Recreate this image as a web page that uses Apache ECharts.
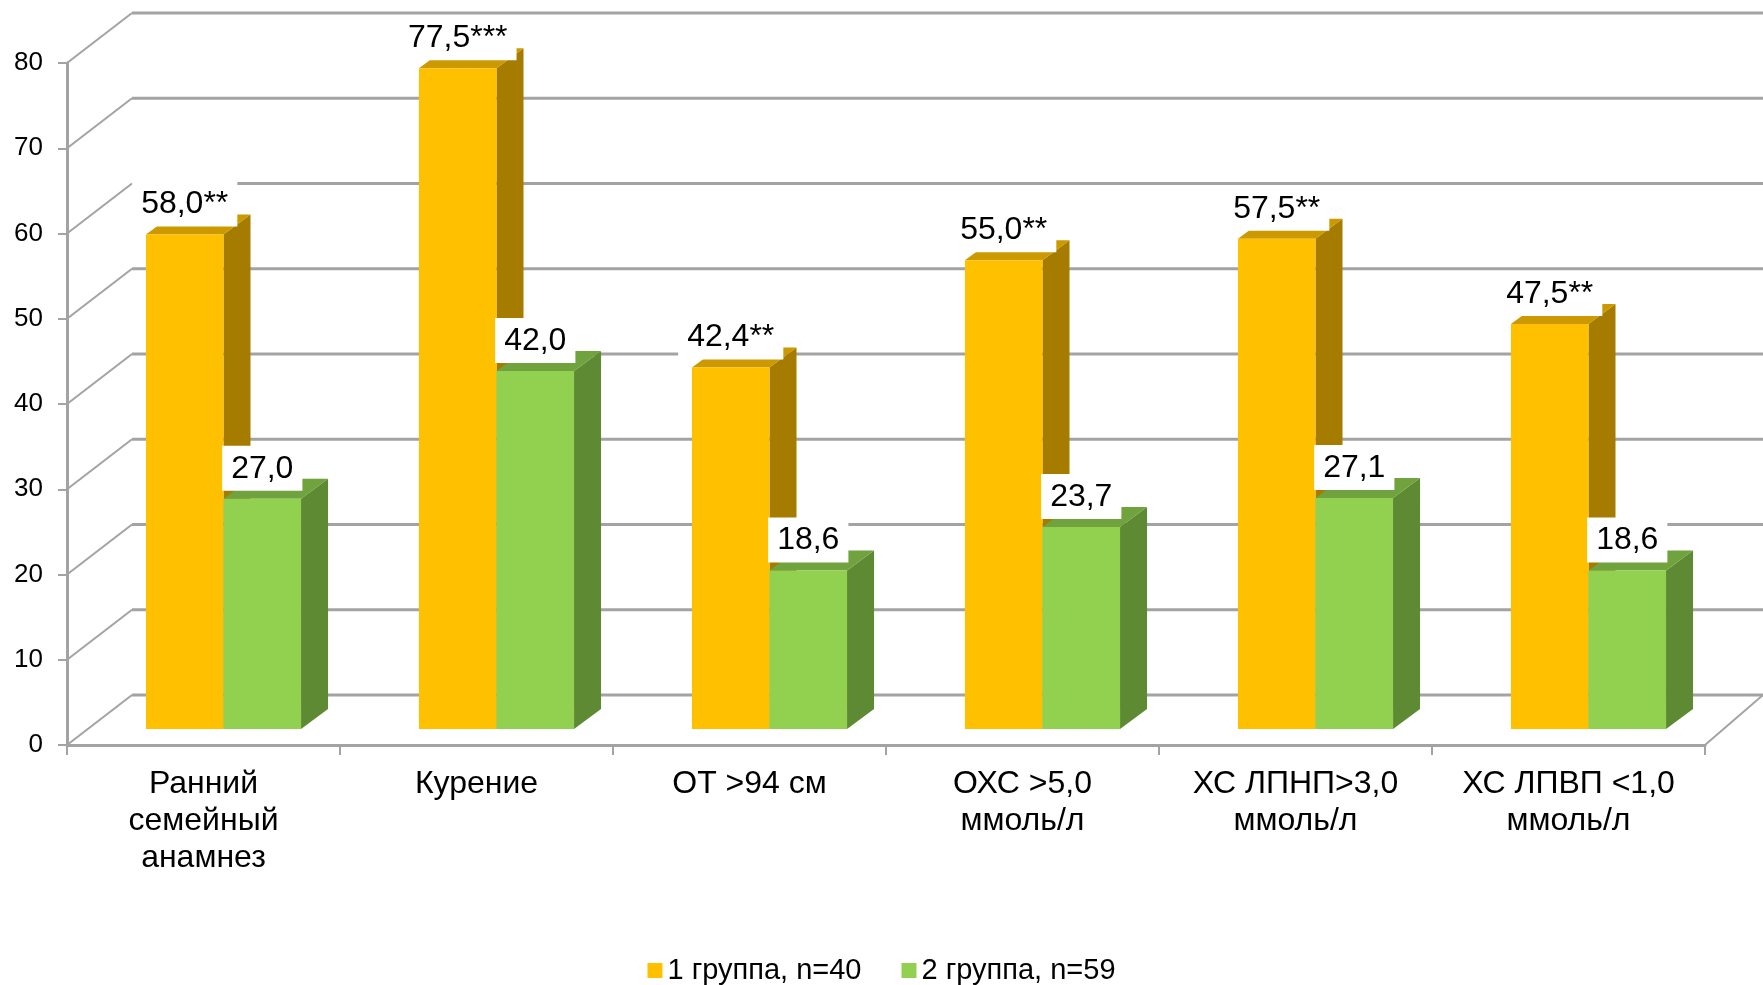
<!DOCTYPE html>
<html>
<head>
<meta charset="utf-8">
<script src="https://cdn.jsdelivr.net/npm/echarts@6/dist/echarts.min.js"></script>
<style>
  html, body { margin: 0; padding: 0; background: #fff; }
  #chart { width: 1763px; height: 985px; }
</style>
</head>
<body>
<div id="chart"></div>
<script>
// Risk factor prevalence, %
const categories = [
  'Ранний\nсемейный\nанамнез',
  'Курение',
  'ОТ >94 см',
  'ОХС >5,0\nммоль/л',
  'ХС ЛПНП>3,0\nммоль/л',
  'ХС ЛПВП <1,0\nммоль/л'
];
const group1 = [58.0, 77.5, 42.4, 55.0, 57.5, 47.5];
const group2 = [27.0, 42.0, 18.6, 23.7, 27.1, 18.6];
const group1Marks = ['**', '***', '**', '**', '**', '**'];
const group2Marks = ['', '', '', '', '', ''];
const seriesNames = ['1 группа, n=40', '2 группа, n=59'];
const yTicks = [0, 10, 20, 30, 40, 50, 60, 70, 80];

// pseudo-3D projection
const WALL_DX_LEFT = 65;
const WALL_DX_RIGHT = 58;
const WALL_DY = -50;
const BAR_SHIFT = [20, -16];   // bars stand a little inside the floor
const BAR_DEPTH = [27, -20];   // bar thickness toward the back wall
const BAR_FRAC = 0.284;        // one bar's share of a category band
const FONT = '"Liberation Sans", Arial, sans-serif';
const GRID_COLOR = '#a3a3a3';

const palette = [
  { front: '#FFC000', top: '#CC9A00', side: '#A67C00' },
  { front: '#92D050', top: '#70A23E', side: '#5E8A33' }
];

function fmt(v) { return v.toFixed(1).replace('.', ','); }

function renderWall(params, api) {
  const cs = params.coordSys;
  const v = api.value(1);
  const y = api.coord([0, v])[1];
  const left = cs.x;
  const right = cs.x + cs.width;
  const children = [
    { type: 'line', shape: { x1: left, y1: y, x2: left + WALL_DX_LEFT, y2: y + WALL_DY },
      style: { stroke: GRID_COLOR, lineWidth: 2 } },
    { type: 'line', shape: { x1: left + WALL_DX_LEFT, y1: y + WALL_DY, x2: right + WALL_DX_RIGHT + 40, y2: y + WALL_DY },
      style: { stroke: GRID_COLOR, lineWidth: 2.8 } }
  ];
  if (v === 0) {
    children.push({ type: 'line', shape: { x1: right, y1: y, x2: right + WALL_DX_RIGHT, y2: y + WALL_DY },
      style: { stroke: GRID_COLOR, lineWidth: 2 } });
  }
  return { type: 'group', children };
}

function makeBarRenderer(slot, colors, marks) {
  return function (params, api) {
    const idx = api.value(0);
    const val = api.value(1);
    const base = api.coord([idx, 0]);
    const top = api.coord([idx, val]);
    const band = api.size([1, 0])[0];
    const bw = band * BAR_FRAC;
    const x0 = base[0] + BAR_SHIFT[0] - bw + slot * bw;
    const x1 = x0 + bw;
    const yb = base[1] + BAR_SHIFT[1];
    const yt = top[1] + BAR_SHIFT[1];
    const dx = BAR_DEPTH[0], dy = BAR_DEPTH[1];
    return {
      type: 'group',
      children: [
        { type: 'polygon', shape: { points: [[x1, yt], [x1 + dx, yt + dy], [x1 + dx, yb + dy], [x1, yb]] },
          style: { fill: colors.side } },
        { type: 'polygon', shape: { points: [[x0, yt], [x1, yt], [x1 + dx, yt + dy], [x0 + dx, yt + dy]] },
          style: { fill: colors.top } },
        { type: 'rect', shape: { x: x0, y: yt, width: bw, height: yb - yt },
          style: { fill: colors.front } },
        { type: 'text', z2: 100, x: (x0 + x1) / 2, y: yt - 8,
          style: {
            text: fmt(val) + marks[idx],
            fontSize: 32, fontFamily: FONT, fill: '#000',
            align: 'center', verticalAlign: 'bottom',
            backgroundColor: '#fff', padding: [6, 9, 5, 9], lineHeight: 34
          } }
      ]
    };
  };
}

const chart = echarts.init(document.getElementById('chart'));
chart.setOption({
  animation: false,
  backgroundColor: '#fff',
  textStyle: { fontFamily: FONT },
  grid: { left: 67, right: 58, top: 63, bottom: 240, containLabel: false },
  legend: {
    data: seriesNames,
    left: 'center',
    top: 951,
    icon: 'rect',
    itemWidth: 15,
    itemHeight: 15,
    itemGap: 40,
    textStyle: { fontSize: 29, color: '#000', fontFamily: FONT }
  },
  xAxis: {
    type: 'category',
    data: categories,
    axisLine: { lineStyle: { color: GRID_COLOR, width: 3 } },
    axisTick: { show: true, length: 10, lineStyle: { color: GRID_COLOR, width: 2 } },
    axisLabel: { interval: 0, fontSize: 32, color: '#000', lineHeight: 37, margin: 21, fontFamily: FONT },
    splitLine: { show: false }
  },
  yAxis: {
    type: 'value',
    min: 0,
    max: 80,
    interval: 10,
    axisLine: { show: true, lineStyle: { color: GRID_COLOR, width: 3 } },
    axisTick: { show: true, length: 9, lineStyle: { color: GRID_COLOR, width: 2 } },
    axisLabel: { fontSize: 26, color: '#000', margin: 24, fontFamily: FONT },
    splitLine: { show: false }
  },
  series: [
    {
      type: 'custom',
      name: 'wall',
      z: 1,
      silent: true,
      renderItem: renderWall,
      encode: { x: 0, y: 1 },
      data: yTicks.map(v => [0, v])
    },
    {
      type: 'custom',
      name: seriesNames[0],
      z: 2,
      itemStyle: { color: palette[0].front },
      renderItem: makeBarRenderer(0, palette[0], group1Marks),
      encode: { x: 0, y: 1 },
      data: group1.map((v, i) => [i, v])
    },
    {
      type: 'custom',
      name: seriesNames[1],
      z: 2,
      itemStyle: { color: palette[1].front },
      renderItem: makeBarRenderer(1, palette[1], group2Marks),
      encode: { x: 0, y: 1 },
      data: group2.map((v, i) => [i, v])
    }
  ]
});
</script>
</body>
</html>
